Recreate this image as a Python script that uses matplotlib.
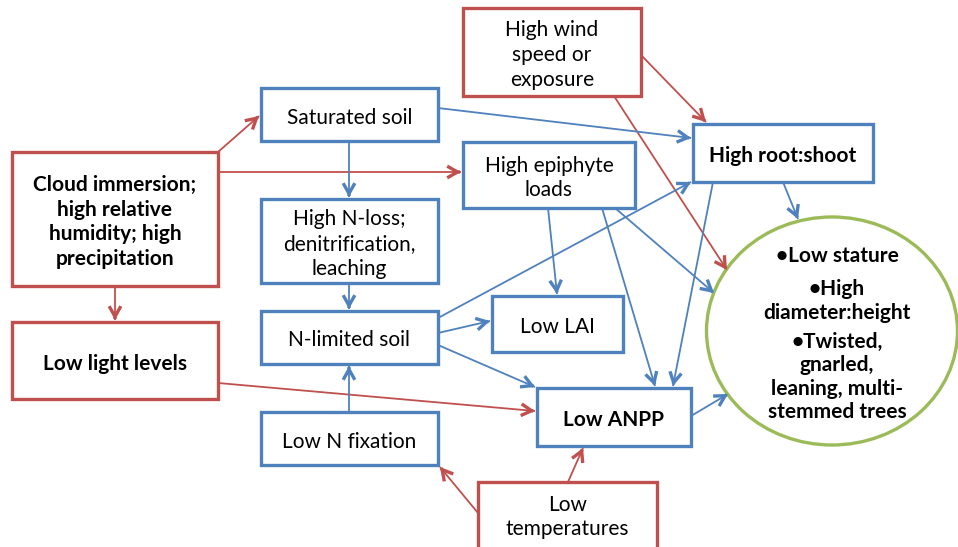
import matplotlib
matplotlib.use("Agg")
import matplotlib.pyplot as plt
from matplotlib.patches import Rectangle, Ellipse, FancyArrowPatch
import numpy as np

# ---- content -------------------------------------------------------------
node_ids = ["cloud", "light", "sat", "nloss", "nlim", "nfix", "wind", "epi",
            "lai", "anpp", "temp", "root"]
node_labels = ["Cloud immersion;\nhigh relative\nhumidity; high\nprecipitation",
               "Low light levels", "Saturated soil",
               "High N-loss;\ndenitrification,\nleaching", "N-limited soil",
               "Low N fixation", "High wind\nspeed or\nexposure",
               "High epiphyte\nloads", "Low LAI", "Low ANPP",
               "Low\ntemperatures", "High root:shoot"]
node_kind = ["driver", "driver", "process", "process", "process", "process",
             "driver", "process", "process", "process", "driver", "process"]
node_bold = [True, True, False, False, False, False, False, False, False, True,
             False, True]
outcome_groups = ["\u2022Low stature", "\u2022High\ndiameter:height",
                  "\u2022Twisted,\ngnarled,\nleaning, multi-\nstemmed trees"]

# ---- layout (pixel coordinates, y downward) ------------------------------
box = {  # x0, y0, x1, y1
    "cloud": (12, 152, 218, 286),
    "light": (12, 322, 218, 399),
    "sat":   (261, 88, 438, 141),
    "nloss": (261, 199, 438, 283),
    "nlim":  (261, 311, 438, 364),
    "nfix":  (261, 412, 438, 465),
    "wind":  (463, 8, 641, 96),
    "epi":   (463, 142, 635, 208),
    "lai":   (492, 296, 623, 352),
    "anpp":  (537, 388, 691, 446),
    "temp":  (478, 482, 657, 560),
    "root":  (693, 124, 873, 182),
}
text_y = {"temp": 517}
TEXT_DY = 3
ell_c, ell_w, ell_h = (832, 331), 251, 228
group_y = [256, 301, 377]

# arrows: (x0, y0, x1, y1, kind)
arrows = [
    (218, 152, 259, 116, "driver"),
    (218, 172, 461, 172, "driver"),
    (115, 286, 115, 320, "driver"),
    (218, 383, 535, 411, "driver"),
    (641, 55, 706, 122, "driver"),
    (614, 96, 727, 270, "driver"),
    (478, 513, 440, 467, "driver"),
    (568, 482, 583, 448, "driver"),
    (438, 108, 691, 138, "process"),
    (349, 141, 349, 197, "process"),
    (349, 283, 349, 309, "process"),
    (349, 412, 349, 366, "process"),
    (438, 318, 691, 182, "process"),
    (438, 333, 490, 321, "process"),
    (438, 345, 535, 387, "process"),
    (548, 208, 557, 294, "process"),
    (602, 208, 655, 386, "process"),
    (615, 208, 714, 293, "process"),
    (713, 182, 673, 386, "process"),
    (783, 182, 798, 219, "process"),
    (691, 416, 728, 394, "process"),
]

colors = {"driver": "#C0504D", "process": "#4F81BD", "outcome": "#9BBB59"}

W, H = 958, 547
fig = plt.figure(figsize=(W / 100, H / 100), dpi=100)
ax = fig.add_axes([0, 0, 1, 1])
ax.set_xlim(0, W)
ax.set_ylim(H, 0)
ax.axis("off")

FONT = "Lato"
FS = 15

# arrows first (below boxes)
for x0, y0, x1, y1, kind in arrows:
    c = colors[kind]
    ax.plot([x0, x1], [y0, y1], color=c, lw=1.3, solid_capstyle="butt", zorder=1)
    d = np.array([x1 - x0, y1 - y0], float)
    d /= np.linalg.norm(d)
    start = (x1 - d[0] * 2, y1 - d[1] * 2)
    ax.add_patch(FancyArrowPatch(start, (x1, y1),
                                 arrowstyle="->,head_length=0.75,head_width=0.42",
                                 mutation_scale=10, color=c, lw=2.4,
                                 shrinkA=0, shrinkB=0, zorder=4,
                                 joinstyle="miter", capstyle="butt"))

for nid, lab, kind, bold in zip(node_ids, node_labels, node_kind, node_bold):
    x0, y0, x1, y1 = box[nid]
    ax.add_patch(Rectangle((x0, y0), x1 - x0, y1 - y0, facecolor="white",
                           edgecolor=colors[kind], lw=2.4, zorder=2))
    ty = text_y.get(nid, (y0 + y1) / 2 + TEXT_DY)
    ax.text((x0 + x1) / 2, ty, lab, ha="center", va="center",
            fontsize=FS, family=FONT, fontweight="bold" if bold else "normal",
            linespacing=1.3, zorder=3)

ax.add_patch(Ellipse(ell_c, ell_w, ell_h, facecolor="white",
                     edgecolor=colors["outcome"], lw=2.4, zorder=2))
for g, gy in zip(outcome_groups, group_y):
    ax.text(837, gy, g, ha="center", va="center", fontsize=FS, family=FONT,
            fontweight="bold", linespacing=1.2, zorder=3)

fig.savefig("out.png", dpi=100)
